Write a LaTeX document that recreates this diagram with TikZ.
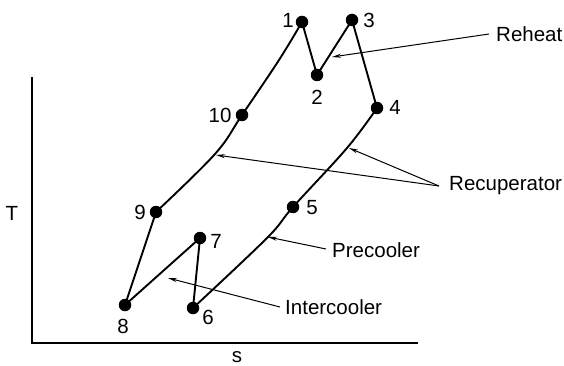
\documentclass[tikz,border=0pt]{standalone}
\usepackage{fontspec}
\setmainfont{Liberation Sans}
\usetikzlibrary{arrows.meta}
\begin{document}
\begin{tikzpicture}[x=1pt,y=-1pt,
  dot/.style={circle,fill=black,inner sep=0pt,minimum size=12.5pt},
  lbl/.style={font=\fontsize{20.5}{23}\selectfont,inner sep=0pt},
  curve/.style={line width=1.9pt},
  axis/.style={line width=2pt},
  pointer/.style={line width=1pt,-{Stealth[length=9pt,width=4pt]}}]
\useasboundingbox (0,0) rectangle (564,366);
% axes
\coordinate (ytop) at (32,77);
\coordinate (orig) at (32,343);
\coordinate (xend) at (418,343);
\draw[axis] (ytop) -- (orig) -- (xend);
\node[lbl] (T) at (12,213) {T};
\node[lbl] (S) at (237,357) {s};
% state points
\node[dot] (p1) at (302,22) {};
\node[dot] (p2) at (317,75) {};
\node[dot] (p3) at (352,20) {};
\node[dot] (p4) at (377,108) {};
\node[dot] (p5) at (293,207) {};
\node[dot] (p6) at (193,308) {};
\node[dot] (p7) at (200,238) {};
\node[dot] (p8) at (125,305) {};
\node[dot] (p9) at (156,212) {};
\node[dot] (p10) at (242,115) {};
% cycle lines
\draw[curve] plot[smooth,tension=0.6] coordinates {(156,212) (215,154) (242,115) (279,60) (302,22)};
\draw[curve] plot[smooth,tension=0.6] coordinates {(193,308) (267,238) (293,207) (347,148) (377,108)};
\draw[curve] (p1.center) -- (p2.center) -- (p3.center) -- (p4.center);
\draw[curve] (p9.center) -- (p8.center) -- (p7.center) -- (p6.center);
% point labels
\node[lbl] (l1) at (288,20) {1};
\node[lbl] (l2) at (317,97) {2};
\node[lbl] (l3) at (369,20) {3};
\node[lbl] (l4) at (395,107) {4};
\node[lbl] (l5) at (312,208) {5};
\node[lbl] (l6) at (208,317) {6};
\node[lbl] (l7) at (216,241) {7};
\node[lbl] (l8) at (123,326) {8};
\node[lbl] (l9) at (140,212) {9};
\node[lbl] (l10) at (220,115) {10};
% process labels
\node[lbl,anchor=west] (reheat) at (496,34) {Reheat};
\node[lbl,anchor=west] (recup) at (449,186) {Recuperator};
\node[lbl,anchor=west] (precool) at (332,250) {Precooler};
\node[lbl,anchor=west] (intercool) at (285,307) {Intercooler};
\coordinate (reheatS) at (489,34);
\coordinate (recupS) at (439,186);
\coordinate (precoolS) at (326,249);
\coordinate (intercoolS) at (280,307);
\coordinate (tReheat) at (332,57);
\coordinate (tRecA) at (216,155);
\coordinate (tRecB) at (349,148);
\coordinate (tPre) at (268,237);
\coordinate (tInt) at (168,278);
\draw[pointer] (reheatS) -- (tReheat);
\draw[pointer] (recupS) -- (tRecA);
\draw[pointer] (recupS) -- (tRecB);
\draw[pointer] (precoolS) -- (tPre);
\draw[pointer] (intercoolS) -- (tInt);
\end{tikzpicture}
\end{document}
